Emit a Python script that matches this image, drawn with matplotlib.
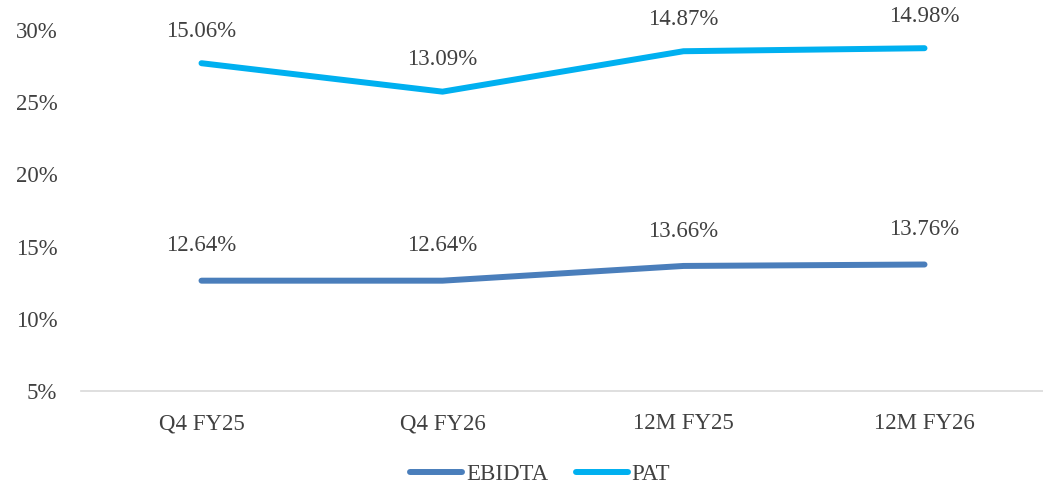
import matplotlib
matplotlib.use("Agg")
import matplotlib.pyplot as plt
import numpy as np

categories = ["Q4 FY25", "Q4 FY26", "12M FY25", "12M FY26"]
ebidta = [12.64, 12.64, 13.66, 13.76]
pat = [15.06, 13.09, 14.87, 14.98]
yticks = [5, 10, 15, 20, 25, 30]

plt.rcParams['font.family'] = ['Liberation Serif', 'DejaVu Serif']
txt = "#404040"
fs = 16.5

fig = plt.figure(figsize=(10.43, 4.86), dpi=100)
ax = fig.add_axes([81/1043, 1-391/486, (1045-81)/1043, (391-30)/486])

x = np.arange(len(categories))
stack_pat = np.array(ebidta) + np.array(pat)
c1, c2 = "#4A7EBB", "#00B0F0"
ax.plot(x, ebidta, color=c1, lw=4.3, solid_capstyle='round', label="EBIDTA", clip_on=False)
ax.plot(x, stack_pat, color=c2, lw=4.3, solid_capstyle='round', label="PAT", clip_on=False)

for xi, v in zip(x, ebidta):
    ax.annotate(f"{v:.2f}%", (xi, v), xytext=(0, 25), textcoords='offset points',
                ha='center', va='center', fontsize=fs, color=txt)
for xi, v, s in zip(x, pat, stack_pat):
    ax.annotate(f"{v:.2f}%", (xi, s), xytext=(0, 23), textcoords='offset points',
                ha='center', va='center', fontsize=fs, color=txt, annotation_clip=False)

ax.set_xlim(-0.5, 3.5)
ax.set_ylim(5, 30)
ax.set_yticks(yticks)
ax.set_yticklabels([f"{t}%" for t in yticks], fontsize=fs, color=txt)
ax.set_xticks(x)
ax.set_xticklabels(categories, fontsize=fs, color=txt)
ax.tick_params(length=0, pad=16)
ax.tick_params(axis='y', pad=17)
for s in ['top', 'right', 'left']:
    ax.spines[s].set_visible(False)
ax.spines['bottom'].set_color("#D9D9D9")
ax.spines['bottom'].set_linewidth(1.2)

leg = fig.legend(loc='center', bbox_to_anchor=(540/1043, 1-474/486), ncol=2, frameon=False,
                 fontsize=fs, handlelength=2.3, columnspacing=1.2, handletextpad=0.15)
for t in leg.get_texts():
    t.set_color(txt)

fig.savefig("out.png", dpi=100)
